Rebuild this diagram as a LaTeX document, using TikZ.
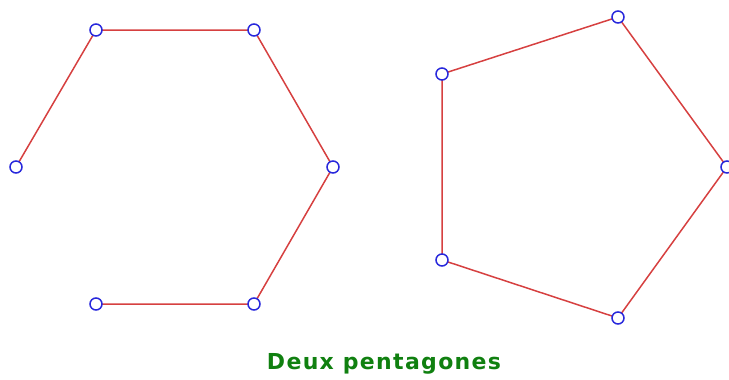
\documentclass[tikz,border=0pt]{standalone}
\usepackage{fontspec}
\newfontfamily\labelfont[LetterSpace=6]{DejaVu Sans}
\definecolor{edgered}{RGB}{214,64,64}
\definecolor{ptblue}{RGB}{40,40,220}
\definecolor{titlegreen}{RGB}{16,128,16}
\begin{document}
\begin{tikzpicture}[x=1pt,y=-1pt,
  edge/.style={draw=edgered,line width=1.5pt},
  vertex/.style={circle,draw=ptblue,fill=white,line width=1.5pt,minimum size=12pt,inner sep=0pt},
  title/.style={font=\labelfont\bfseries\fontsize{22}{26}\selectfont,text=titlegreen}]
\useasboundingbox (0,0) rectangle (729,380);
% hexagon-like open path
\coordinate (h1) at (16,167);
\coordinate (h2) at (96,30);
\coordinate (h3) at (254,30);
\coordinate (h4) at (333,167);
\coordinate (h5) at (254,304);
\coordinate (h6) at (96,304);
% pentagon
\coordinate (p1) at (442,74);
\coordinate (p2) at (618,17);
\coordinate (p3) at (727,167);
\coordinate (p4) at (618,318);
\coordinate (p5) at (442,260);
\draw[edge] (h1) -- (h2) -- (h3) -- (h4) -- (h5) -- (h6);
\draw[edge] (p1) -- (p2) -- (p3) -- (p4) -- (p5) -- cycle;
\foreach \v in {h1,h2,h3,h4,h5,h6,p1,p2,p3,p4,p5}
  \node[vertex] (n\v) at (\v) {};
\node[title] (t) at (384,364) {Deux pentagones};
\end{tikzpicture}
\end{document}
